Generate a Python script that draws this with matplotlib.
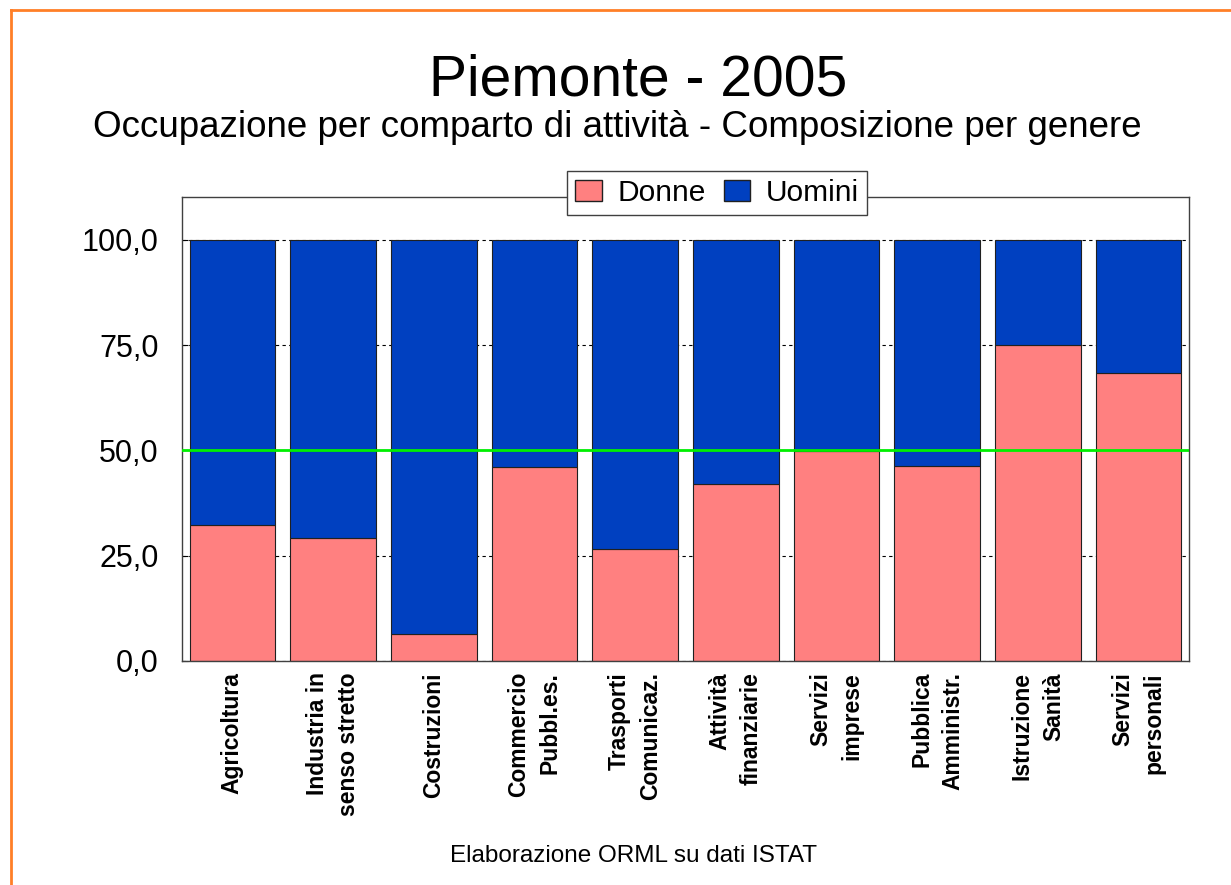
import matplotlib.pyplot as plt
from matplotlib.patches import Patch
from matplotlib.lines import Line2D

plt.rcParams['font.family'] = ['Liberation Sans', 'DejaVu Sans']

# dati
categories = ['Agricoltura', 'Industria in\nsenso stretto', 'Costruzioni',
              'Commercio\nPubbl.es.', 'Trasporti\nComunicaz.', 'Attività\nfinanziarie',
              'Servizi\nimprese', 'Pubblica\nAmministr.', 'Istruzione\nSanità',
              'Servizi\npersonali']
donne = [32.4, 29.3, 6.4, 46.0, 26.7, 42.1, 49.8, 46.2, 75.0, 68.3]
uomini = [100 - d for d in donne]
yticks = [0, 25, 50, 75, 100]
ytick_labels = ['0,0', '25,0', '50,0', '75,0', '100,0']

col_donne = '#FF8080'
col_uomini = '#0040C0'

fig = plt.figure(figsize=(12.31, 8.85), dpi=100)
ax = fig.add_axes([182/1231, 1 - 661/885, (1189-182)/1231, (661-197)/885])

x = range(len(categories))
ax.bar(x, donne, width=0.85, color=col_donne, edgecolor='#202020', linewidth=0.8, zorder=2)
ax.bar(x, uomini, width=0.85, bottom=donne, color=col_uomini, edgecolor='#202020',
       linewidth=0.8, zorder=2)

ax.axhline(50, color='#00F000', linewidth=2, zorder=3)

ax.set_xlim(-0.5, len(categories) - 0.5)
ax.set_ylim(0, 110.2)
ax.set_yticks(yticks)
ax.set_yticklabels(ytick_labels, fontsize=22)
ax.yaxis.grid(True, color='black', linestyle=(0, (3, 3)), linewidth=0.8, zorder=1)
ax.set_axisbelow(True)
ax.tick_params(axis='y', direction='in', length=4, pad=17)

ax.set_xticks(list(x))
ax.set_xticklabels(categories, rotation=90, fontsize=16.5, fontweight='bold',
                   ha='center', va='top', multialignment='right', linespacing=1.45)
ax.tick_params(axis='x', length=0, pad=8)

for s in ax.spines.values():
    s.set_color('#404040')
    s.set_linewidth(1)

# legenda
handles = [Patch(facecolor=col_donne, edgecolor='#202020', label='Donne'),
           Patch(facecolor=col_uomini, edgecolor='#202020', label='Uomini')]
leg = fig.legend(handles=handles, loc='center', bbox_to_anchor=(717/1231, 1 - 193/885),
                 ncol=2, fontsize=21.5, frameon=True, fancybox=False, framealpha=1,
                 edgecolor='#404040', handlelength=0.9, handleheight=0.67,
                 columnspacing=0.6, handletextpad=0.5, borderpad=0.27,
                 borderaxespad=0)
leg.get_frame().set_linewidth(1)

# titoli
fig.text(638/1231, 1 - 95/885, 'Piemonte - 2005', fontsize=41, ha='center', va='baseline')
fig.text(617/1231, 1 - 137/885, 'Occupazione per comparto di attività - Composizione per genere',
         fontsize=26.5, ha='center', va='baseline')
fig.text(634/1231, 1 - 862/885, 'Elaborazione ORML su dati ISTAT', fontsize=17.5,
         ha='center', va='baseline')

# cornice arancione
fig.add_artist(Line2D([11/1231, 11/1231], [0, 1 - 10/885], color='#FF7F27', linewidth=2,
                      transform=fig.transFigure))
fig.add_artist(Line2D([11/1231, 1], [1 - 10/885, 1 - 10/885], color='#FF7F27', linewidth=2,
                      transform=fig.transFigure))

fig.savefig('out.png', dpi=100)
